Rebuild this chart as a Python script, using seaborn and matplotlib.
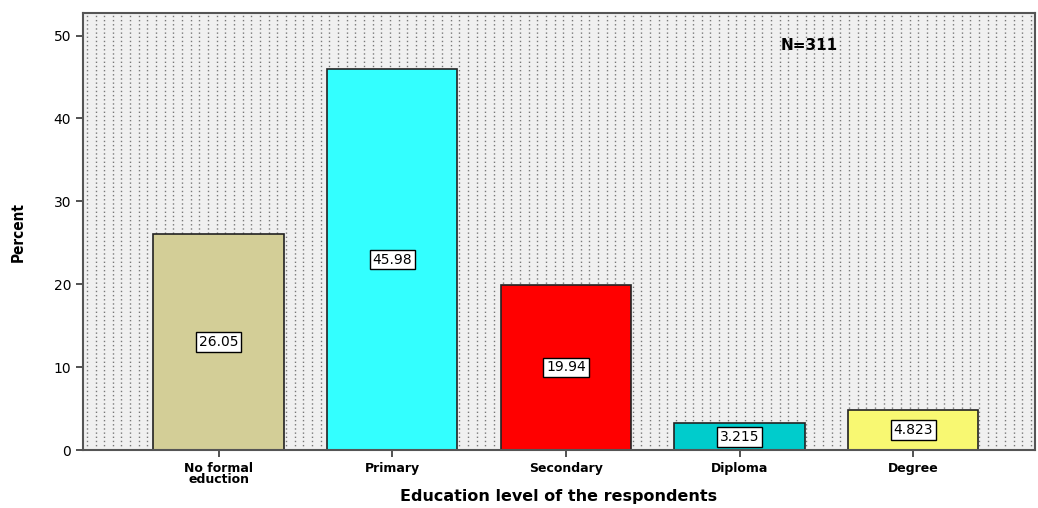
import seaborn as sns
import matplotlib.pyplot as plt
import numpy as np
import pandas as pd

categories = ['No formal\neduction', 'Primary', 'Secondary', 'Diploma', 'Degree']
percent = [26.05, 45.98, 19.94, 3.215, 4.823]
labels = ['26.05', '45.98', '19.94', '3.215', '4.823']
colors = ['#d3ce97', '#33ffff', '#ff0000', '#00cccc', '#f8f872']

df = pd.DataFrame({'edu': categories, 'pct': percent})

sns.set_style('white')
plt.rcParams['text.color'] = 'black'
plt.rcParams['xtick.color'] = 'black'
plt.rcParams['ytick.color'] = 'black'
plt.rcParams['axes.labelcolor'] = 'black'
fig = plt.figure(figsize=(10.38, 5.08), dpi=100)
ax = fig.add_axes([0.080, 0.114, 0.917, 0.860])
ax.set_facecolor('#f0f0f0')

# dotted background pattern
for xf in np.arange(0.004, 1.0, 0.0091):
    ax.axvline(xf * 5.48 - 0.78, color='#777777', linestyle=(0, (1, 2)),
               linewidth=1.0, zorder=0)

sns.barplot(data=df, x='edu', y='pct', hue='edu', palette=colors, legend=False,
            width=0.75, edgecolor='#222222', linewidth=1.2, saturation=1,
            ax=ax, zorder=2)

for i, (v, t) in enumerate(zip(percent, labels)):
    ax.text(i, v / 2, t, ha='center', va='center', fontsize=10, zorder=3,
            bbox=dict(boxstyle='square,pad=0.2', fc='white', ec='black', lw=1))

ax.text(3.4, 48.8, 'N=311', fontsize=11, fontweight='bold', ha='center', va='center')

ax.set_xlim(-0.78, 4.70)
ax.set_ylim(0, 52.7)
ax.set_yticks([0, 10, 20, 30, 40, 50])
ax.tick_params(axis='both', length=5, width=1.2, color='#333333', direction='out',
               bottom=True, left=True)
ax.tick_params(axis='y', labelsize=10)
ax.set_xticks(range(5))
ax.set_xticklabels(categories, fontsize=9, fontweight='bold', linespacing=0.85)
for s in ax.spines.values():
    s.set_color('#555555')
    s.set_linewidth(1.5)

ax.set_xlabel('Education level of the respondents', fontsize=11.5, fontweight='bold', labelpad=2)
ax.set_ylabel('Percent', fontsize=11, fontweight='bold', fontstretch='condensed', labelpad=20)

fig.savefig('out.png', dpi=100)
